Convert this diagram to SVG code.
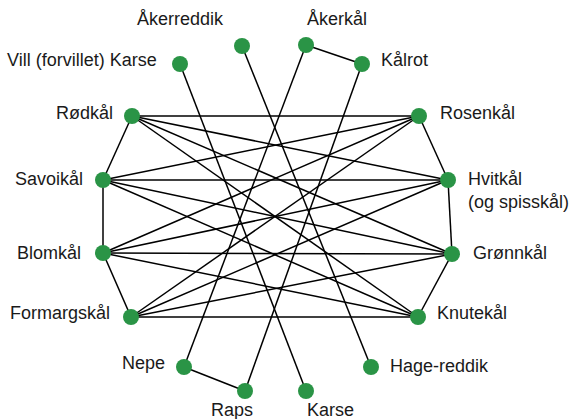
<svg xmlns="http://www.w3.org/2000/svg" width="574" height="419" viewBox="0 0 574 419">
<style>
.n{fill:#2a9446}
.e line{stroke:#000;stroke-width:1.5}
text{font-family:"Liberation Sans",Arial,sans-serif;font-size:18px;fill:#1a1a1a}
</style>
<rect width="574" height="419" fill="#fff"/>
<g class="e" id="edges">
<line x1="180" y1="64" x2="306" y2="391"/>
<line x1="242" y1="46" x2="371" y2="367"/>
<line x1="306" y1="45" x2="184" y2="367"/>
<line x1="362" y1="64" x2="245" y2="391"/>
<line x1="306" y1="45" x2="362" y2="64"/>
<line x1="184" y1="367" x2="245" y2="391"/>
<line x1="132" y1="116" x2="103" y2="180"/>
<line x1="103" y1="180" x2="103" y2="253"/>
<line x1="103" y1="253" x2="131" y2="317"/>
<line x1="419" y1="116" x2="448" y2="180"/>
<line x1="448" y1="180" x2="452" y2="254"/>
<line x1="452" y1="254" x2="418" y2="317"/>
<line x1="132" y1="116" x2="419" y2="116"/>
<line x1="132" y1="116" x2="448" y2="180"/>
<line x1="132" y1="116" x2="452" y2="254"/>
<line x1="132" y1="116" x2="418" y2="317"/>
<line x1="103" y1="180" x2="419" y2="116"/>
<line x1="103" y1="180" x2="448" y2="180"/>
<line x1="103" y1="180" x2="452" y2="254"/>
<line x1="103" y1="180" x2="418" y2="317"/>
<line x1="103" y1="253" x2="419" y2="116"/>
<line x1="103" y1="253" x2="448" y2="180"/>
<line x1="103" y1="253" x2="452" y2="254"/>
<line x1="103" y1="253" x2="418" y2="317"/>
<line x1="131" y1="317" x2="419" y2="116"/>
<line x1="131" y1="317" x2="448" y2="180"/>
<line x1="131" y1="317" x2="452" y2="254"/>
<line x1="131" y1="317" x2="418" y2="317"/>
</g>
<g id="akerreddik"><circle class="n" cx="242" cy="46" r="8"/><text x="137" y="25">Åkerreddik</text></g>
<g id="villkarse"><circle class="n" cx="180" cy="64" r="8"/><text x="7" y="66">Vill (forvillet) Karse</text></g>
<g id="rodkal"><circle class="n" cx="132" cy="116" r="8"/><text x="56" y="119">Rødkål</text></g>
<g id="akerkal"><circle class="n" cx="306" cy="45" r="8"/><text x="307" y="25">Åkerkål</text></g>
<g id="kalrot"><circle class="n" cx="362" cy="64" r="8"/><text x="381" y="66">Kålrot</text></g>
<g id="rosenkal"><circle class="n" cx="419" cy="116" r="8"/><text x="440" y="119">Rosenkål</text></g>
<g id="savoikal"><circle class="n" cx="103" cy="180" r="8"/><text x="15" y="185">Savoikål</text></g>
<g id="hvitkal"><circle class="n" cx="448" cy="180" r="8"/><text x="468" y="185">Hvitkål</text><text x="468" y="208">(og spisskål)</text></g>
<g id="blomkal"><circle class="n" cx="103" cy="253" r="8"/><text x="17" y="259">Blomkål</text></g>
<g id="gronnkal"><circle class="n" cx="452" cy="254" r="8"/><text x="473" y="259">Grønnkål</text></g>
<g id="formargskal"><circle class="n" cx="131" cy="317" r="8"/><text x="10" y="319">Formargskål</text></g>
<g id="knutekal"><circle class="n" cx="418" cy="317" r="8"/><text x="437" y="319">Knutekål</text></g>
<g id="nepe"><circle class="n" cx="184" cy="367" r="8"/><text x="122" y="369">Nepe</text></g>
<g id="raps"><circle class="n" cx="245" cy="391" r="8"/><text x="211" y="416">Raps</text></g>
<g id="karse"><circle class="n" cx="306" cy="391" r="8"/><text x="307" y="416">Karse</text></g>
<g id="hagereddik"><circle class="n" cx="371" cy="367" r="8"/><text x="390" y="372">Hage-reddik</text></g>
</svg>
